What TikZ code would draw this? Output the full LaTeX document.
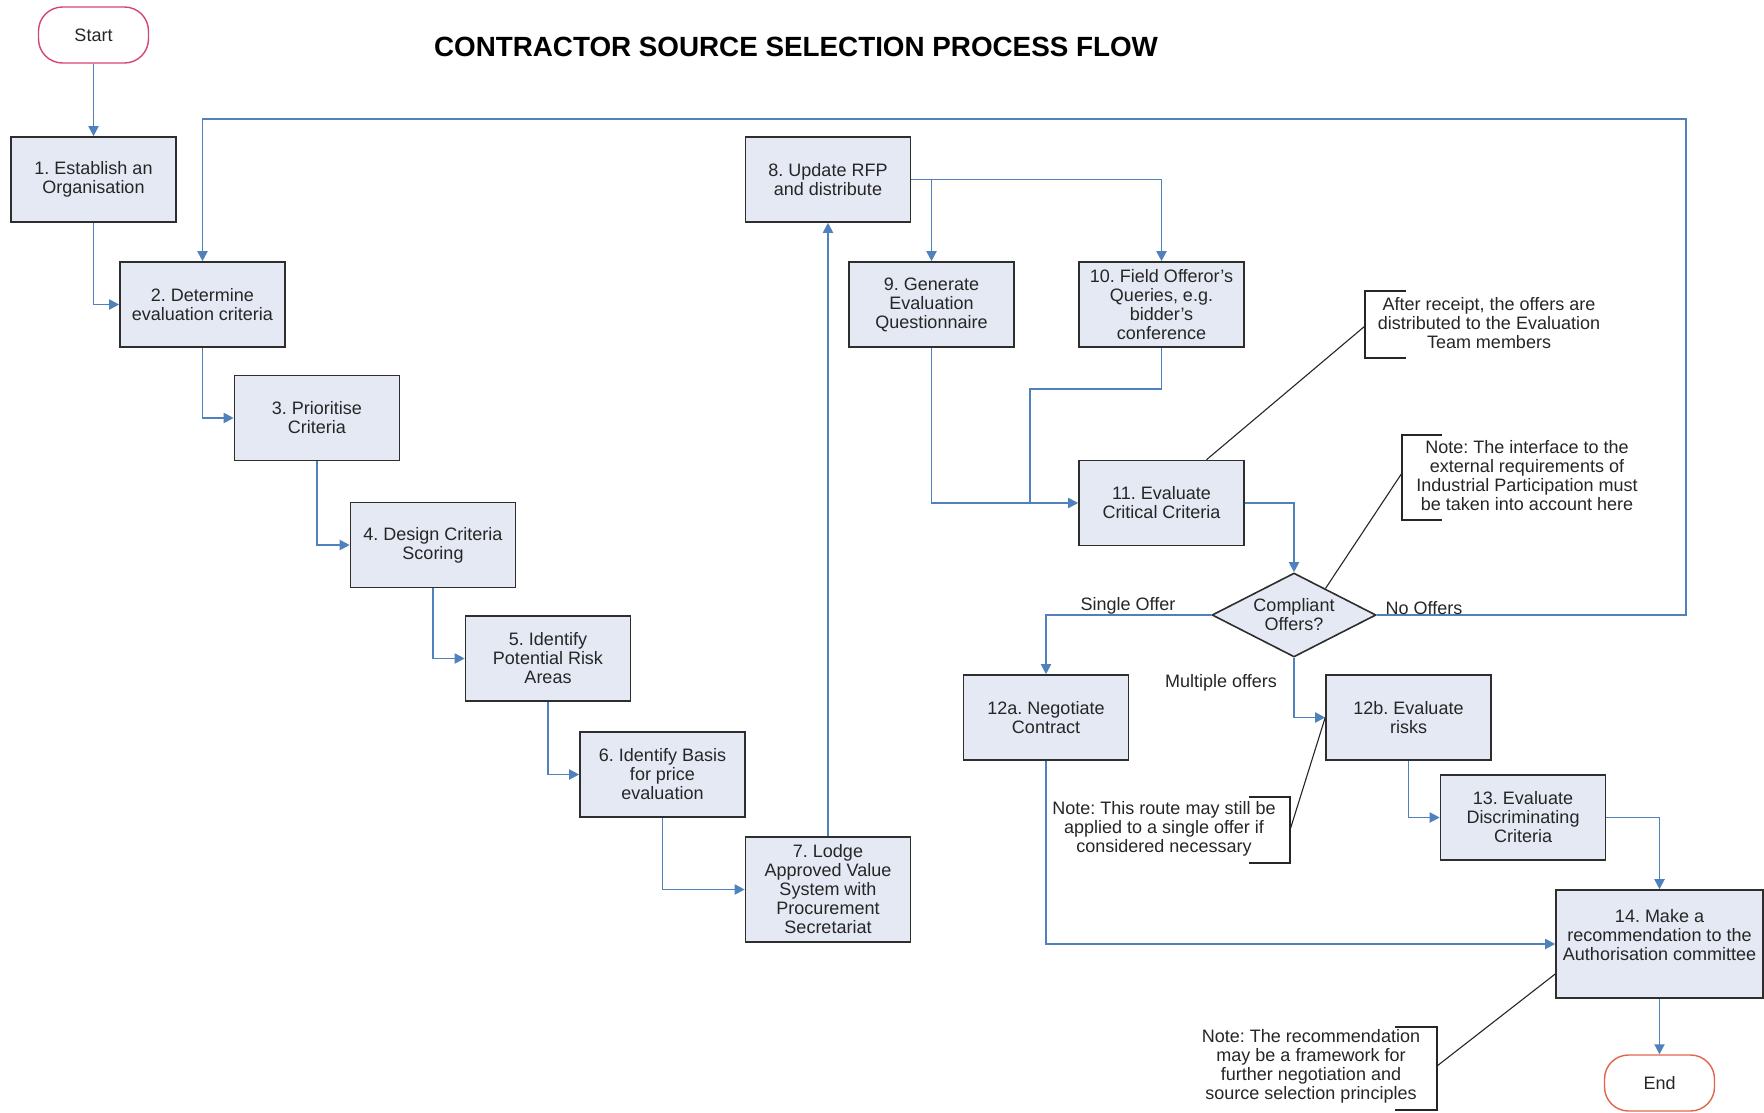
\documentclass[tikz,border=0pt]{standalone}
\usepackage{fontspec}
\setmainfont{Liberation Sans}
\usetikzlibrary{arrows.meta,shapes.geometric,calc}
\definecolor{boxfill}{HTML}{E4E9F4}
\definecolor{boxline}{HTML}{2E2E2E}
\definecolor{conn}{HTML}{4F81BD}
\definecolor{txt}{HTML}{262626}
\definecolor{startc}{HTML}{D6457A}
\definecolor{endc}{HTML}{E2654A}
\frenchspacing
\tikzset{
  every node/.style={font=\fontsize{18}{19}\selectfont, text=txt},
  procbox/.style={draw=boxline, fill=boxfill, line width=1.6pt, minimum width=165pt, minimum height=85pt, align=center, inner sep=0pt},
  termbox/.style={draw=#1, fill=white, line width=1.4pt, rounded corners=24pt, minimum width=110pt, minimum height=56pt, inner sep=0pt},
  decbox/.style={diamond, aspect=1.95, draw=boxline, fill=boxfill, line width=1.6pt, minimum width=164pt, minimum height=84pt, inner sep=0pt, align=center},
  flow/.style={draw=conn, line width=1.9pt, -{Triangle[width=10pt,length=10pt]}},
  flowplain/.style={draw=conn, line width=1.9pt},
  leader/.style={draw=black!85, line width=1.1pt},
  notetext/.style={align=center, inner sep=0pt},
  lbl/.style={inner sep=0pt}
}
\begin{document}
\begin{tikzpicture}[x=1pt,y=-1pt]
\useasboundingbox (0,0) rectangle (1764,1113);
\fill[white] (0,0) rectangle (1764,1113);

\node[font=\fontsize{27.8}{30}\selectfont\bfseries, text=black] (title) at (796,47) {CONTRACTOR SOURCE SELECTION PROCESS FLOW};

\node[termbox=startc] (start) at (93.5,35) {Start};
\node[termbox=endc] (end) at (1659.5,1083) {End};

\node[procbox] (b1) at (93.5,179.5) {1. Establish an\\Organisation};
\node[procbox] (b2) at (202.5,304.5) {2. Determine\\evaluation criteria};
\node[procbox] (b3) at (317,418) {3. Prioritise\\Criteria};
\node[procbox] (b4) at (433,545) {4. Design Criteria\\Scoring};
\node[procbox] (b5) at (548,658.5) {5. Identify\\Potential Risk\\Areas};
\node[procbox] (b6) at (662.5,774.5) {6. Identify Basis\\for price\\evaluation};
\node[procbox, minimum height=105pt] (b7) at (828,889.5) {7. Lodge\\Approved Value\\System with\\Procurement\\Secretariat};
\node[procbox] (b8) at (828,179.5) {8. Update RFP\\and distribute};
\node[procbox] (b9) at (931.5,304.5) {9. Generate\\Evaluation\\Questionnaire};
\node[procbox] (b10) at (1161.5,304.5) {10. Field Offeror's\\Queries, e.g.\\bidder's\\conference};
\node[procbox] (b11) at (1161.5,503) {11. Evaluate\\Critical Criteria};
\node[decbox] (d) at (1294,615) {Compliant\\Offers?};
\node[procbox] (b12a) at (1046,717.5) {12a. Negotiate\\Contract};
\node[procbox] (b12b) at (1408.5,717.5) {12b. Evaluate\\risks};
\node[procbox] (b13) at (1523,817.5) {13. Evaluate\\Discriminating\\Criteria};
\node[procbox, minimum width=207pt, minimum height=108pt] (b14) at (1659.5,944) {14. Make a\\recommendation to the\\Authorisation committee\\\mbox{}};

% flow connectors
\draw[flow] (start) -- (b1);
\draw[flow] (b1.south) |- (b2.west);
\draw[flow] (b2.south) |- (b3.west);
\draw[flow] (b3.south) |- (b4.west);
\draw[flow] (b4.south) |- (b5.west);
\draw[flow] (b5.south) |- (b6.west);
\draw[flow] (b6.south) |- (b7.west);
\draw[flow] (b7.north) -- (b8.south);
\draw[flow] (b8.east) -| (b10.north);
\draw[flow] (b8.east -| b9.north) -- (b9.north);
\draw[flow] (b9.south) |- (b11.west);
\coordinate (j10) at (1030,389);
\draw[flowplain] (b10.south) |- (j10) -- (j10 |- b11.west);
\draw[flow] (b11.east) -| (d.north);
\draw[flow] (d.west) -| (b12a.north);
\coordinate (nr) at (1686,119);
\draw[flow] (d.east) -| (nr) -| (b2.north);
\draw[flow] (d.south) |- (b12b.west);
\draw[flow] (b12b.south) |- (b13.west);
\draw[flow] (b13.east) -| (b14.north);
\draw[flow] (b12a.south) |- (b14.west);
\draw[flow] (b14.south) -- (end.north);

% branch labels
\node[lbl] (lsingle) at (1128,606) {Single Offer};
\node[lbl] (lno) at (1424,608) {No Offers};
\node[lbl] (lmulti) at (1221,683) {Multiple offers};

% note A
\node[notetext] (na) at (1489,323) {After receipt, the offers are\\distributed to the Evaluation\\Team members};
\coordinate (naTop) at (1406,291);
\coordinate (naBot) at (1406,358);
\coordinate (naMid) at (1365,326);
\draw[leader] (naTop) -- (1365,291) -- (1365,358) -- (naBot);
\coordinate (la1) at ([xshift=45pt]b11.north);
\draw[leader] (la1) -- (naMid);

% note B
\node[notetext] (nb) at (1527,476) {Note: The interface to the\\external requirements of\\Industrial Participation must\\be taken into account here};
\coordinate (nbTop) at (1442,435);
\coordinate (nbBot) at (1442,520);
\coordinate (nbMid) at (1402,473);
\draw[leader] (nbTop) -- (1402,435) -- (1402,520) -- (nbBot);
\coordinate (lb1) at ($(d.north)!0.38!(d.east)$);
\draw[leader] (lb1) -- (nbMid);

% note C
\node[notetext] (nc) at (1164,829) {Note: This route may still be\\applied to a single offer if\\considered necessary};
\coordinate (ncTop) at (1249,797);
\coordinate (ncBot) at (1249,863);
\coordinate (ncMid) at (1290,830);
\draw[leader] (ncTop) -- (1290,797) -- (1290,863) -- (ncBot);
\draw[leader] (ncMid) -- (b12b.west);

% note D
\node[notetext] (nd) at (1311,1066) {Note: The recommendation\\may be a framework for\\further negotiation and\\source selection principles};
\coordinate (ndTop) at (1395,1027);
\coordinate (ndBot) at (1395,1110);
\coordinate (ndMid) at (1437,1066);
\draw[leader] (ndTop) -- (1437,1027) -- (1437,1110) -- (ndBot);
\coordinate (ld1) at ([yshift=-30pt]b14.west);
\draw[leader] (ndMid) -- (ld1);
\end{tikzpicture}
\end{document}
